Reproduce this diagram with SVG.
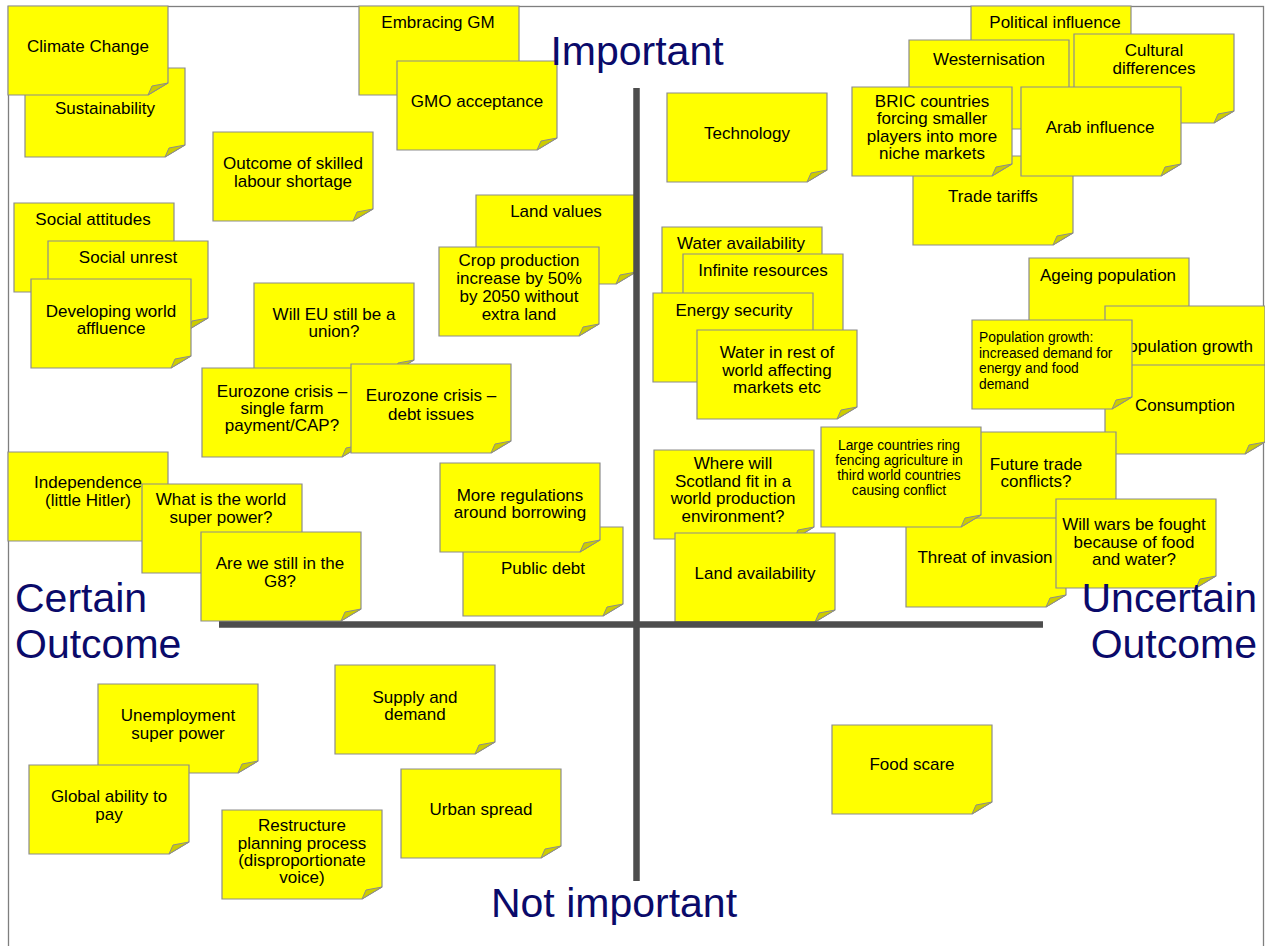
<svg xmlns="http://www.w3.org/2000/svg" xmlns:xlink="http://www.w3.org/1999/xlink" width="1265" height="946" viewBox="0 0 1265 946">
<style>
.t{font-family:"Liberation Sans",Arial,sans-serif;font-size:17px;text-anchor:middle;fill:#000}
.s{font-family:"Liberation Sans",Arial,sans-serif;font-size:13.8px;fill:#000}
.sc{text-anchor:middle}
.big{font-family:"Liberation Sans",Arial,sans-serif;font-size:41px;fill:#0a0a6a}
.axis{stroke:#4d4d4d;stroke-width:6.5;fill:none}
</style>
<defs>
<g id="sticky">
<path d="M0,0 H160 V77 L140,89 H0 Z" fill="#ffff00" stroke="#8c8c8c" stroke-width="1.2"/>
<path d="M140,89 L144,80 L160,77 Z" fill="#cccc00" stroke="#8c8c8c" stroke-width="1"/>
</g>
<g id="stickyTall">
<path d="M0,0 H160 V88 L140,100 H0 Z" fill="#ffff00" stroke="#8c8c8c" stroke-width="1.2"/>
<path d="M140,100 L144,91 L160,88 Z" fill="#cccc00" stroke="#8c8c8c" stroke-width="1"/>
</g>
</defs>
<rect width="1265" height="946" fill="#ffffff"/>
<rect x="8.5" y="6.5" width="1255" height="1000" fill="none" stroke="#7f7f7f" stroke-width="1.3"/>

<g id="sustainability"><use xlink:href="#sticky" x="25" y="68"/><text class="t" x="105" y="114">Sustainability</text></g>
<g id="climate-change"><use xlink:href="#sticky" x="8" y="6"/><text class="t" x="88" y="52">Climate Change</text></g>
<g id="embracing-gm"><use xlink:href="#sticky" x="359" y="6"/><text class="t" x="438" y="28">Embracing GM</text></g>
<g id="gmo-acceptance"><use xlink:href="#sticky" x="397" y="61"/><text class="t" x="477" y="107">GMO acceptance</text></g>
<g id="skilled-labour"><use xlink:href="#sticky" x="213" y="132"/><text class="t"><tspan x="293" y="169">Outcome of skilled</tspan><tspan x="293" y="187">labour shortage</tspan></text></g>
<g id="social-attitudes"><use xlink:href="#sticky" x="14" y="203"/><text class="t" x="93" y="225">Social attitudes</text></g>
<g id="social-unrest"><use xlink:href="#sticky" x="48" y="241"/><text class="t" x="128" y="263">Social unrest</text></g>
<g id="developing-world"><use xlink:href="#sticky" x="31" y="279"/><text class="t"><tspan x="111" y="317">Developing world</tspan><tspan x="111" y="334">affluence</tspan></text></g>
<g id="land-values"><use xlink:href="#sticky" x="476" y="195"/><text class="t" x="556" y="217">Land values</text></g>
<g id="crop-production"><use xlink:href="#sticky" x="439" y="247"/><text class="t"><tspan x="519" y="266">Crop production</tspan><tspan x="519" y="284">increase by 50%</tspan><tspan x="519" y="302">by 2050 without</tspan><tspan x="519" y="320">extra land</tspan></text></g>
<g id="eu-union"><use xlink:href="#sticky" x="254" y="283"/><text class="t"><tspan x="334" y="320">Will EU still be a</tspan><tspan x="334" y="337">union?</tspan></text></g>
<g id="eurozone-farm"><use xlink:href="#sticky" x="202" y="368"/><text class="t"><tspan x="282" y="397">Eurozone crisis –</tspan><tspan x="282" y="414">single farm</tspan><tspan x="282" y="431">payment/CAP?</tspan></text></g>
<g id="eurozone-debt"><use xlink:href="#sticky" x="351" y="364"/><text class="t"><tspan x="431" y="401">Eurozone crisis –</tspan><tspan x="431" y="420">debt issues</tspan></text></g>
<g id="independence"><use xlink:href="#sticky" x="8" y="452"/><text class="t"><tspan x="88" y="488">Independence</tspan><tspan x="88" y="506">(little Hitler)</tspan></text></g>
<g id="world-super-power"><use xlink:href="#sticky" x="142" y="484"/><text class="t"><tspan x="221" y="505">What is the world</tspan><tspan x="221" y="523">super power?</tspan></text></g>
<g id="g8"><use xlink:href="#sticky" x="201" y="532"/><text class="t"><tspan x="280" y="569">Are we still in the</tspan><tspan x="280" y="587">G8?</tspan></text></g>
<g id="public-debt"><use xlink:href="#sticky" x="463" y="527"/><text class="t" x="543" y="574">Public debt</text></g>
<g id="regulations"><use xlink:href="#sticky" x="440" y="463"/><text class="t"><tspan x="520" y="501">More regulations</tspan><tspan x="520" y="518">around borrowing</tspan></text></g>

<g id="political-influence"><use xlink:href="#sticky" x="971" y="6"/><text class="t" x="1055" y="28">Political influence</text></g>
<g id="westernisation"><use xlink:href="#sticky" x="909" y="40"/><text class="t" x="989" y="65">Westernisation</text></g>
<g id="cultural-differences"><use xlink:href="#sticky" x="1074" y="34"/><text class="t"><tspan x="1154" y="56">Cultural</tspan><tspan x="1154" y="74">differences</tspan></text></g>
<g id="trade-tariffs"><use xlink:href="#sticky" x="913" y="156"/><text class="t" x="993" y="202">Trade tariffs</text></g>
<g id="bric"><use xlink:href="#sticky" x="852" y="87"/><text class="t"><tspan x="932" y="107">BRIC countries</tspan><tspan x="932" y="124">forcing smaller</tspan><tspan x="932" y="142">players into more</tspan><tspan x="932" y="159">niche markets</tspan></text></g>
<g id="arab-influence"><use xlink:href="#sticky" x="1021" y="87"/><text class="t" x="1100" y="133">Arab influence</text></g>
<g id="technology"><use xlink:href="#sticky" x="667" y="93"/><text class="t" x="747" y="139">Technology</text></g>
<g id="water-availability"><use xlink:href="#sticky" x="662" y="227"/><text class="t" x="741" y="249">Water availability</text></g>
<g id="infinite-resources"><use xlink:href="#sticky" x="683" y="254"/><text class="t" x="763" y="276">Infinite resources</text></g>
<g id="energy-security"><use xlink:href="#sticky" x="653" y="293"/><text class="t" x="734" y="316">Energy security</text></g>
<g id="water-rest"><use xlink:href="#sticky" x="697" y="330"/><text class="t"><tspan x="777" y="358">Water in rest of</tspan><tspan x="777" y="376">world affecting</tspan><tspan x="777" y="393">markets etc</tspan></text></g>
<g id="ageing-population"><use xlink:href="#sticky" x="1029" y="258"/><text class="t" x="1108" y="281">Ageing population</text></g>
<g id="population-growth"><use xlink:href="#sticky" x="1105" y="306"/><text class="t" x="1185" y="352">Population growth</text></g>
<g id="consumption"><use xlink:href="#sticky" x="1105" y="365"/><text class="t" x="1185" y="411">Consumption</text></g>
<g id="population-demand"><use xlink:href="#sticky" x="972" y="320"/><text class="s"><tspan x="979" y="342">Population growth:</tspan><tspan x="979" y="357.5">increased demand for</tspan><tspan x="979" y="373">energy and food</tspan><tspan x="979" y="388.5">demand</tspan></text></g>
<g id="scotland"><use xlink:href="#sticky" x="654" y="450"/><text class="t"><tspan x="733" y="469">Where will</tspan><tspan x="733" y="487">Scotland fit in a</tspan><tspan x="733" y="504">world production</tspan><tspan x="733" y="522">environment?</tspan></text></g>
<g id="land-availability"><use xlink:href="#sticky" x="675" y="533"/><text class="t" x="755" y="579">Land availability</text></g>
<g id="future-trade"><use xlink:href="#sticky" x="956" y="432"/><text class="t"><tspan x="1036" y="470">Future trade</tspan><tspan x="1036" y="487">conflicts?</tspan></text></g>
<g id="threat-invasion"><use xlink:href="#sticky" x="906" y="518"/><text class="t" x="985" y="563">Threat of invasion</text></g>
<g id="large-countries"><use xlink:href="#stickyTall" x="821" y="427"/><text class="s sc"><tspan x="899" y="450">Large countries ring</tspan><tspan x="899" y="465">fencing agriculture in</tspan><tspan x="899" y="480">third world countries</tspan><tspan x="899" y="495">causing conflict</tspan></text></g>
<g id="wars"><use xlink:href="#sticky" x="1056" y="499"/><text class="t"><tspan x="1134" y="530">Will wars be fought</tspan><tspan x="1134" y="548">because of food</tspan><tspan x="1134" y="565">and water?</tspan></text></g>

<g id="unemployment"><use xlink:href="#sticky" x="98" y="684"/><text class="t"><tspan x="178" y="721">Unemployment</tspan><tspan x="178" y="739">super power</tspan></text></g>
<g id="global-ability"><use xlink:href="#sticky" x="29" y="765"/><text class="t"><tspan x="109" y="802">Global ability to</tspan><tspan x="109" y="820">pay</tspan></text></g>
<g id="supply-demand"><use xlink:href="#sticky" x="335" y="665"/><text class="t"><tspan x="415" y="703">Supply and</tspan><tspan x="415" y="720">demand</tspan></text></g>
<g id="urban-spread"><use xlink:href="#sticky" x="401" y="769"/><text class="t" x="481" y="815">Urban spread</text></g>
<g id="restructure"><use xlink:href="#sticky" x="222" y="810"/><text class="t"><tspan x="302" y="831">Restructure</tspan><tspan x="302" y="849">planning process</tspan><tspan x="302" y="866">(disproportionate</tspan><tspan x="302" y="883">voice)</tspan></text></g>
<g id="food-scare"><use xlink:href="#sticky" x="832" y="725"/><text class="t" x="912" y="770">Food scare</text></g>

<g id="connectors">
<line class="axis" x1="636.5" y1="88" x2="636.5" y2="881"/>
<line class="axis" x1="219" y1="624.5" x2="1043" y2="624.5"/>
</g>

<g id="labels">
<text class="big" x="637" y="65" text-anchor="middle">Important</text>
<text class="big" x="614" y="917" text-anchor="middle">Not important</text>
<text class="big"><tspan x="15" y="612">Certain</tspan><tspan x="15" y="658">Outcome</tspan></text>
<text class="big" text-anchor="end"><tspan x="1257" y="612">Uncertain</tspan><tspan x="1257" y="658">Outcome</tspan></text>
</g>
</svg>
